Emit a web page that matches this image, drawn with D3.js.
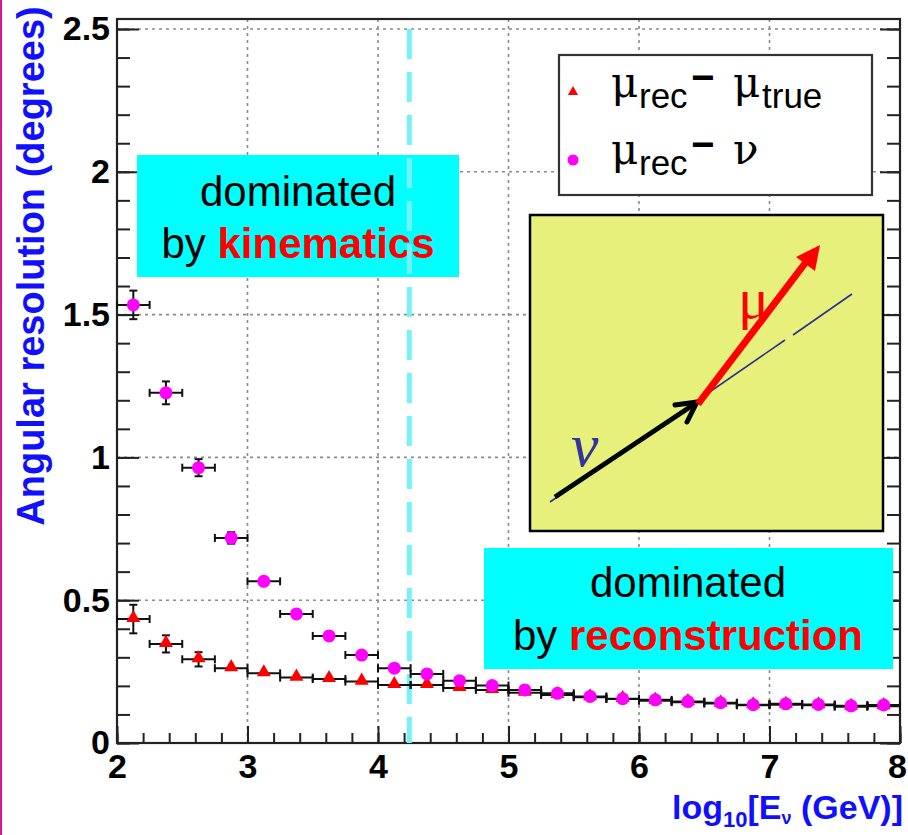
<!DOCTYPE html>
<html>
<head>
<meta charset="utf-8">
<title>Angular resolution</title>
<style>
body { margin: 0; background: white; }
svg { display: block; font-family: "Liberation Sans", Arial, sans-serif; }
.tick line { stroke: #222; stroke-width: 2px; }
.tick text { font-weight: bold; font-size: 34px; fill: #000; }
.grid { stroke: #8a8a8a; stroke-width: 1.6px; stroke-dasharray: 3,4; }
.frame { fill: none; stroke: #222; stroke-width: 2.2px; }
.err { stroke: #111; stroke-width: 2px; }
</style>
<script src="https://d3js.org/d3.v7.min.js"></script>
</head>
<body>
<svg width="908" height="835"></svg>
<script>
// bin centres of log10(E/GeV), each bin 0.25 wide
const binCenters = [2.125, 2.375, 2.625, 2.875, 3.125, 3.375, 3.625, 3.875,
  4.125, 4.375, 4.625, 4.875, 5.125, 5.375, 5.625, 5.875,
  6.125, 6.375, 6.625, 6.875, 7.125, 7.375, 7.625, 7.875];
const binHalfWidth = 0.125;

// mu_rec - nu (magenta)
const muNu = [1.534, 1.226, 0.964, 0.718, 0.566, 0.452, 0.375, 0.308,
  0.262, 0.242, 0.218, 0.201, 0.186, 0.174, 0.163, 0.155,
  0.151, 0.145, 0.141, 0.134, 0.137, 0.135, 0.130, 0.133];
const muNuErr = [0.05, 0.04, 0.03, 0.02, 0.014, 0.011, 0.009, 0.008,
  0.006, 0.005, 0.005, 0.004, 0.004, 0.004, 0.003, 0.003,
  0.003, 0.003, 0.003, 0.003, 0.003, 0.003, 0.003, 0.003];

// mu_rec - mu_true (red)
const muTrue = [0.434, 0.347, 0.293, 0.262, 0.244, 0.229, 0.224, 0.215,
  0.203, 0.203, 0.193, 0.186, 0.176, 0.168, 0.160, 0.154,
  0.148, 0.143, 0.138, 0.132, 0.134, 0.132, 0.127, 0.129];
const muTrueErr = [0.05, 0.03, 0.025, 0.012, 0.008, 0.007, 0.006, 0.005,
  0.005, 0.004, 0.004, 0.004, 0.003, 0.003, 0.003, 0.003,
  0.003, 0.003, 0.003, 0.003, 0.003, 0.003, 0.003, 0.003];

const xMajor = [2, 3, 4, 5, 6, 7, 8];
const yMajor = [0, 0.5, 1, 1.5, 2, 2.5];
const yLabels = ["0", "0.5", "1", "1.5", "2", "2.5"];
const divideLine = 4.24;

const svg = d3.select('svg');
const plotL = 117, plotR = 900, plotT = 19, plotB = 743;
const x = d3.scaleLinear().domain([2, 8]).range([plotL, plotR]);
const y = d3.scaleLinear().domain([0, 2.535]).range([plotB, plotT]);

// slide border
svg.append('rect').attr('x', 0).attr('y', 0).attr('width', 2).attr('height', 835).attr('fill', '#d4169b');

// grid
svg.append('g').selectAll('line').data(xMajor.slice(1, -1)).join('line')
  .attr('class', 'grid').attr('x1', d => x(d)).attr('x2', d => x(d)).attr('y1', plotT).attr('y2', plotB);
svg.append('g').selectAll('line').data(yMajor.slice(1)).join('line')
  .attr('class', 'grid').attr('x1', plotL).attr('x2', plotR).attr('y1', d => y(d)).attr('y2', d => y(d));

// axes
const yMinor = d3.range(0, 2.53, 0.1);
const xMinor = d3.range(2, 8.01, 0.2);
svg.append('g').attr('transform', `translate(${plotL},0)`)
  .call(d3.axisLeft(y).tickValues(yMinor).tickSize(-13).tickFormat(''));
svg.append('g').attr('transform', `translate(${plotL},0)`)
  .call(d3.axisLeft(y).tickValues(yMajor).tickSize(-22).tickPadding(7).tickFormat((d, i) => yLabels[i]));
svg.append('g').attr('transform', `translate(${plotR},0)`)
  .call(d3.axisRight(y).tickValues(yMinor).tickSize(-13).tickFormat(''));
svg.append('g').attr('transform', `translate(${plotR},0)`)
  .call(d3.axisRight(y).tickValues(yMajor).tickSize(-20).tickFormat(''));
svg.append('g').attr('transform', `translate(0,${plotB})`)
  .call(d3.axisBottom(x).tickValues(xMinor).tickSize(-10).tickFormat(''));
const xAxisG = svg.append('g').attr('transform', `translate(0,${plotB})`)
  .call(d3.axisBottom(x).tickValues(xMajor).tickSize(-17).tickPadding(11).tickFormat(d3.format('d')));
// keep the last label inside the page
xAxisG.selectAll('.tick text').filter(d => d === 8).attr('dx', -3);
svg.selectAll('.domain').remove();
svg.append('rect').attr('class', 'frame')
  .attr('x', plotL).attr('y', plotT).attr('width', plotR - plotL).attr('height', plotB - plotT);

// kinematics box
svg.append('rect').attr('x', 137).attr('y', 155).attr('width', 322).attr('height', 122).attr('fill', '#00ffff');
const t1 = svg.append('text').attr('text-anchor', 'middle').attr('font-size', 42);
t1.append('tspan').attr('x', 298).attr('y', 206).text('dominated');
t1.append('tspan').attr('x', 298).attr('y', 258).text('by ');
t1.append('tspan').attr('fill', '#ff0000').attr('font-weight', 'bold').text('kinematics');

// reconstruction box
svg.append('rect').attr('x', 484).attr('y', 548).attr('width', 409).attr('height', 121).attr('fill', '#00ffff');
const t2 = svg.append('text').attr('text-anchor', 'middle').attr('font-size', 42);
t2.append('tspan').attr('x', 688).attr('y', 597).text('dominated');
t2.append('tspan').attr('x', 688).attr('y', 650).text('by ');
t2.append('tspan').attr('fill', '#ff0000').attr('font-weight', 'bold').text('reconstruction');

// dashed divider
svg.append('line').attr('x1', x(divideLine)).attr('x2', x(divideLine)).attr('y1', y(2.5)).attr('y2', plotB)
  .attr('stroke', '#74f2f6').attr('stroke-width', 5).attr('stroke-dasharray', '30,13');

// error bars + markers
function drawSeries(vals, errs) {
  const g = svg.append('g');
  const pts = binCenters.map((c, i) => ({ c, v: vals[i], e: errs[i] }));
  g.selectAll('.hx').data(pts).join('line').attr('class', 'err')
    .attr('x1', d => x(d.c - binHalfWidth)).attr('x2', d => x(d.c + binHalfWidth))
    .attr('y1', d => y(d.v)).attr('y2', d => y(d.v));
  g.selectAll('.capl').data(pts).join('line').attr('class', 'err')
    .attr('x1', d => x(d.c - binHalfWidth)).attr('x2', d => x(d.c - binHalfWidth))
    .attr('y1', d => y(d.v) - 4).attr('y2', d => y(d.v) + 4);
  g.selectAll('.capr').data(pts).join('line').attr('class', 'err')
    .attr('x1', d => x(d.c + binHalfWidth)).attr('x2', d => x(d.c + binHalfWidth))
    .attr('y1', d => y(d.v) - 4).attr('y2', d => y(d.v) + 4);
  const big = pts.filter(d => d.e > 0.015);
  g.selectAll('.vy').data(big).join('line').attr('class', 'err')
    .attr('x1', d => x(d.c)).attr('x2', d => x(d.c))
    .attr('y1', d => y(d.v - d.e)).attr('y2', d => y(d.v + d.e));
  g.selectAll('.capt').data(big).join('line').attr('class', 'err')
    .attr('x1', d => x(d.c) - 4).attr('x2', d => x(d.c) + 4)
    .attr('y1', d => y(d.v + d.e)).attr('y2', d => y(d.v + d.e));
  g.selectAll('.capb').data(big).join('line').attr('class', 'err')
    .attr('x1', d => x(d.c) - 4).attr('x2', d => x(d.c) + 4)
    .attr('y1', d => y(d.v - d.e)).attr('y2', d => y(d.v - d.e));
  return { g, pts };
}
const red = drawSeries(muTrue, muTrueErr);
const mag = drawSeries(muNu, muNuErr);
const tri = d3.symbol().type(d3.symbolTriangle).size(85);
red.g.selectAll('path').data(red.pts).join('path')
  .attr('d', tri).attr('fill', '#ff0000')
  .attr('transform', d => `translate(${x(d.c)},${y(d.v) - 1})`);
mag.g.selectAll('circle').data(mag.pts).join('circle')
  .attr('cx', d => x(d.c)).attr('cy', d => y(d.v)).attr('r', 6.5).attr('fill', '#ff00ff');

// legend
svg.append('rect').attr('x', 559).attr('y', 55).attr('width', 313).attr('height', 140)
  .attr('fill', 'white').attr('stroke', '#333').attr('stroke-width', 2.2);
svg.append('path').attr('d', d3.symbol().type(d3.symbolTriangle).size(45)).attr('fill', '#ff0000')
  .attr('transform', 'translate(573,92)');
svg.append('circle').attr('cx', 573).attr('cy', 160).attr('r', 5.5).attr('fill', '#ff00ff');
function legendRow(yb, second, secondSub) {
  const t = svg.append('text').attr('fill', '#000');
  t.append('tspan').attr('x', 611).attr('y', yb).attr('font-family', '"DejaVu Serif", serif').attr('font-size', 42).text('μ');
  t.append('tspan').attr('x', 639).attr('y', yb + 11).attr('font-size', 35).text('rec');
  t.append('tspan').attr('x', 691).attr('y', yb - 6).attr('font-size', 40).attr('font-weight', 'bold').text('−');
  t.append('tspan').attr('x', 733).attr('y', yb).attr('font-family', '"DejaVu Serif", serif').attr('font-size', 42).text(second);
  if (secondSub) t.append('tspan').attr('x', 762).attr('y', yb + 11).attr('font-size', 35).text(secondSub);
}
legendRow(97, 'μ', 'true');
legendRow(164, 'ν', null);

// inset sketch
const ins = svg.append('g');
ins.append('rect').attr('x', 530).attr('y', 215).attr('width', 353).attr('height', 316)
  .attr('fill', '#e6f07a').attr('stroke', '#000').attr('stroke-width', 2.5);
ins.append('line').attr('x1', 550).attr('y1', 502).attr('x2', 785).attr('y2', 340).attr('stroke', '#2e2e96').attr('stroke-width', 1.6);
ins.append('line').attr('x1', 793).attr('y1', 335).attr('x2', 852).attr('y2', 294).attr('stroke', '#2e2e96').attr('stroke-width', 1.6);
ins.append('line').attr('x1', 555).attr('y1', 497).attr('x2', 693).attr('y2', 405).attr('stroke', '#000').attr('stroke-width', 5);
ins.append('path').attr('d', 'M675,405 L697,402 L687,422').attr('fill', 'none').attr('stroke', '#000')
  .attr('stroke-width', 5).attr('stroke-linecap', 'round').attr('stroke-linejoin', 'round');
ins.append('line').attr('x1', 698).attr('y1', 404).attr('x2', 806).attr('y2', 262).attr('stroke', '#ff0000').attr('stroke-width', 7);
ins.append('path').attr('d', 'M820,245 L815,271 L796,257 Z').attr('fill', '#ff0000');
ins.append('text').attr('x', 571).attr('y', 466).attr('font-family', '"Liberation Serif", serif')
  .attr('font-style', 'italic').attr('font-size', 62).attr('fill', '#33339a').text('ν');
ins.append('text').attr('x', 738).attr('y', 318).attr('font-family', '"Liberation Serif", serif')
  .attr('font-size', 58).attr('fill', '#ff0000').text('μ');

// axis titles
svg.append('text').attr('transform', 'translate(44,266) rotate(-90)').attr('text-anchor', 'middle')
  .attr('font-weight', 'bold').attr('font-size', 38).attr('fill', '#1010ff').text('Angular resolution (degrees)');
const xt = svg.append('text').attr('x', 903).attr('y', 819).attr('text-anchor', 'end')
  .attr('font-weight', 'bold').attr('font-size', 34).attr('fill', '#1010ff');
xt.append('tspan').text('log');
xt.append('tspan').attr('font-size', 22).attr('dy', 8).text('10');
xt.append('tspan').attr('dy', -8).text('[E');
xt.append('tspan').attr('font-size', 18).attr('dy', 5).text('ν');
xt.append('tspan').attr('dy', -5).text(' (GeV)]');
</script>
</body>
</html>
